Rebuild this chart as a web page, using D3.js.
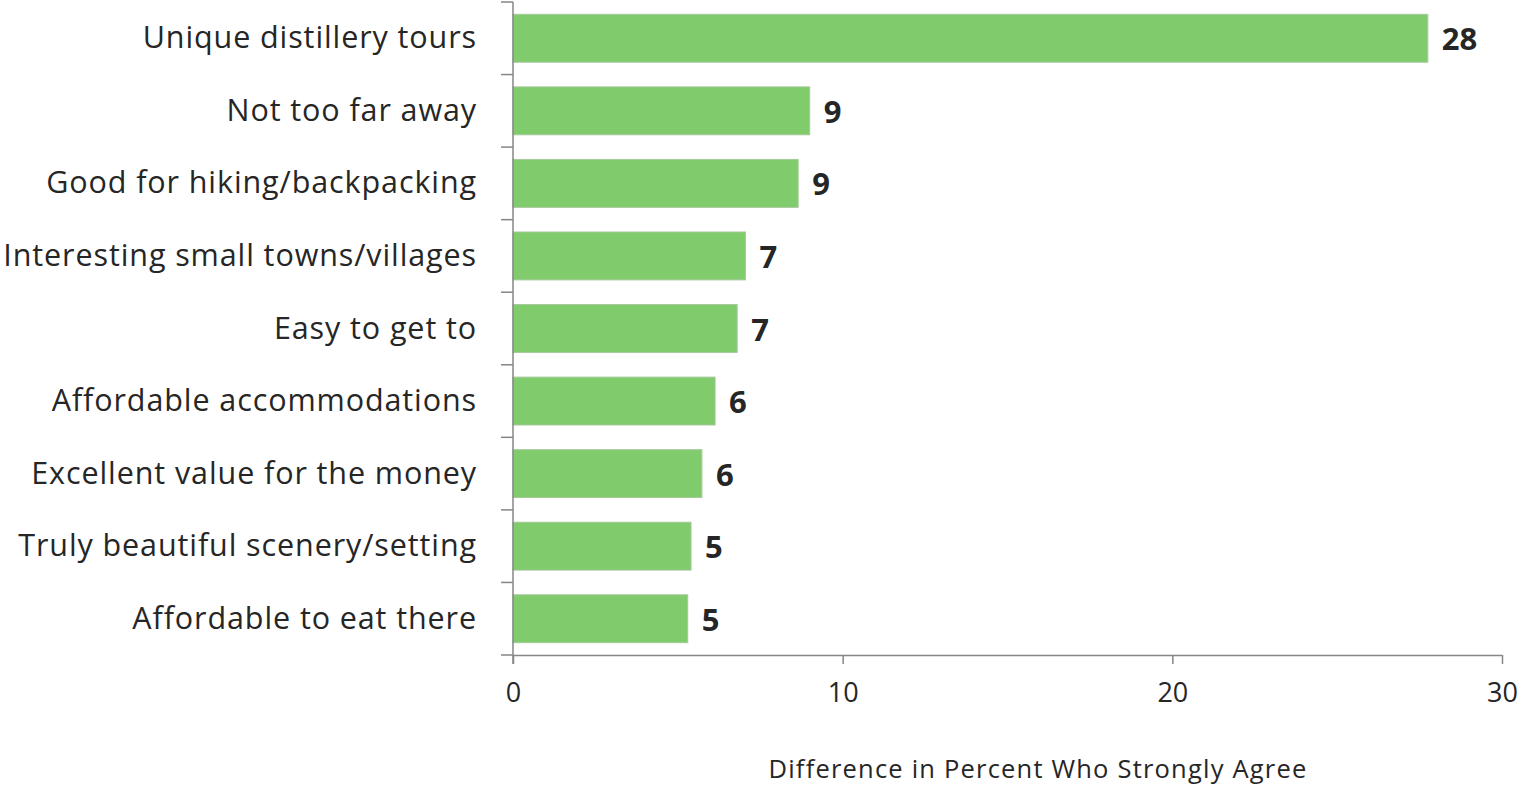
<!DOCTYPE html>
<html><head><meta charset="utf-8">
<script src="https://cdn.jsdelivr.net/npm/d3@7"></script>
<style>body{margin:0;background:#fff;}svg{display:block;}</style>
</head><body>
<svg id="chart" width="1519" height="786"></svg>
<script>
const categories = ["Unique distillery tours","Not too far away","Good for hiking/backpacking","Interesting small towns/villages","Easy to get to","Affordable accommodations","Excellent value for the money","Truly beautiful scenery/setting","Affordable to eat there"];
const values = [27.75, 9.0, 8.65, 7.05, 6.8, 6.13, 5.73, 5.4, 5.3];
const xTicks = [0, 10, 20, 30];
const xTitle = "Difference in Percent Who Strongly Agree";

(function(){
const svg = d3.select("#chart");
const font = "'Open Sans', sans-serif";
const mLeft = 513, mRight = 1502, mTop = 2, mBottom = 655;
const x = d3.scaleLinear().domain([0, 30]).range([mLeft, mRight]);
const y = d3.scaleBand().domain(categories).range([mTop, mBottom]).paddingInner(0.34).paddingOuter(0.17);
const data = categories.map((c, i) => ({c, v: values[i]}));

svg.append("g").selectAll("rect").data(data).join("rect")
  .attr("x", x(0)).attr("y", d => y(d.c))
  .attr("width", d => x(d.v) - x(0)).attr("height", y.bandwidth())
  .attr("fill", "#80cb6b").attr("stroke", "#a6c99c").attr("stroke-width", 1);

svg.append("g").selectAll("text").data(data).join("text")
  .attr("x", d => x(d.v) + 14).attr("y", d => y(d.c) + y.bandwidth()/2 + 12)
  .attr("font-family", font).attr("font-weight", "bold").attr("font-size", 31)
  .attr("fill", "#262626").text(d => Math.round(d.v));

// y axis
const yAxis = svg.append("g").attr("transform", `translate(${mLeft},0)`);
yAxis.append("line").attr("x1", 0).attr("x2", 0).attr("y1", mTop).attr("y2", mBottom + 9)
  .attr("stroke", "#868686").attr("stroke-width", 1.5);
const bounds = d3.range(categories.length + 1).map(i => mTop + i * (mBottom - mTop) / categories.length);
yAxis.selectAll("line.t").data(bounds).join("line").attr("class", "t")
  .attr("x1", -12).attr("x2", 0).attr("y1", d => d).attr("y2", d => d)
  .attr("stroke", "#868686").attr("stroke-width", 1.5);
yAxis.selectAll("text").data(categories).join("text")
  .attr("x", -36).attr("y", d => y(d) + y.bandwidth()/2 + 10)
  .attr("text-anchor", "end").attr("font-family", font).attr("font-size", 30.5)
  .attr("letter-spacing", 0.9)
  .attr("fill", "#262626").text(d => d);

// x axis
const xAxis = svg.append("g").attr("transform", `translate(0,${mBottom})`)
  .call(d3.axisBottom(x).tickValues(xTicks).tickSize(9).tickPadding(19).tickSizeOuter(0));
xAxis.select(".domain").attr("stroke", "#868686").attr("stroke-width", 1.5);
xAxis.selectAll(".tick line").attr("stroke", "#868686").attr("stroke-width", 1.5);
xAxis.selectAll(".tick text").attr("font-family", font).attr("font-size", 27).attr("fill", "#262626");

svg.append("text").attr("x", 1038).attr("y", 778).attr("text-anchor", "middle")
  .attr("font-family", font).attr("font-size", 25.5).attr("letter-spacing", 1.2)
  .attr("fill", "#262626").text(xTitle);
})();
</script>
</body></html>
